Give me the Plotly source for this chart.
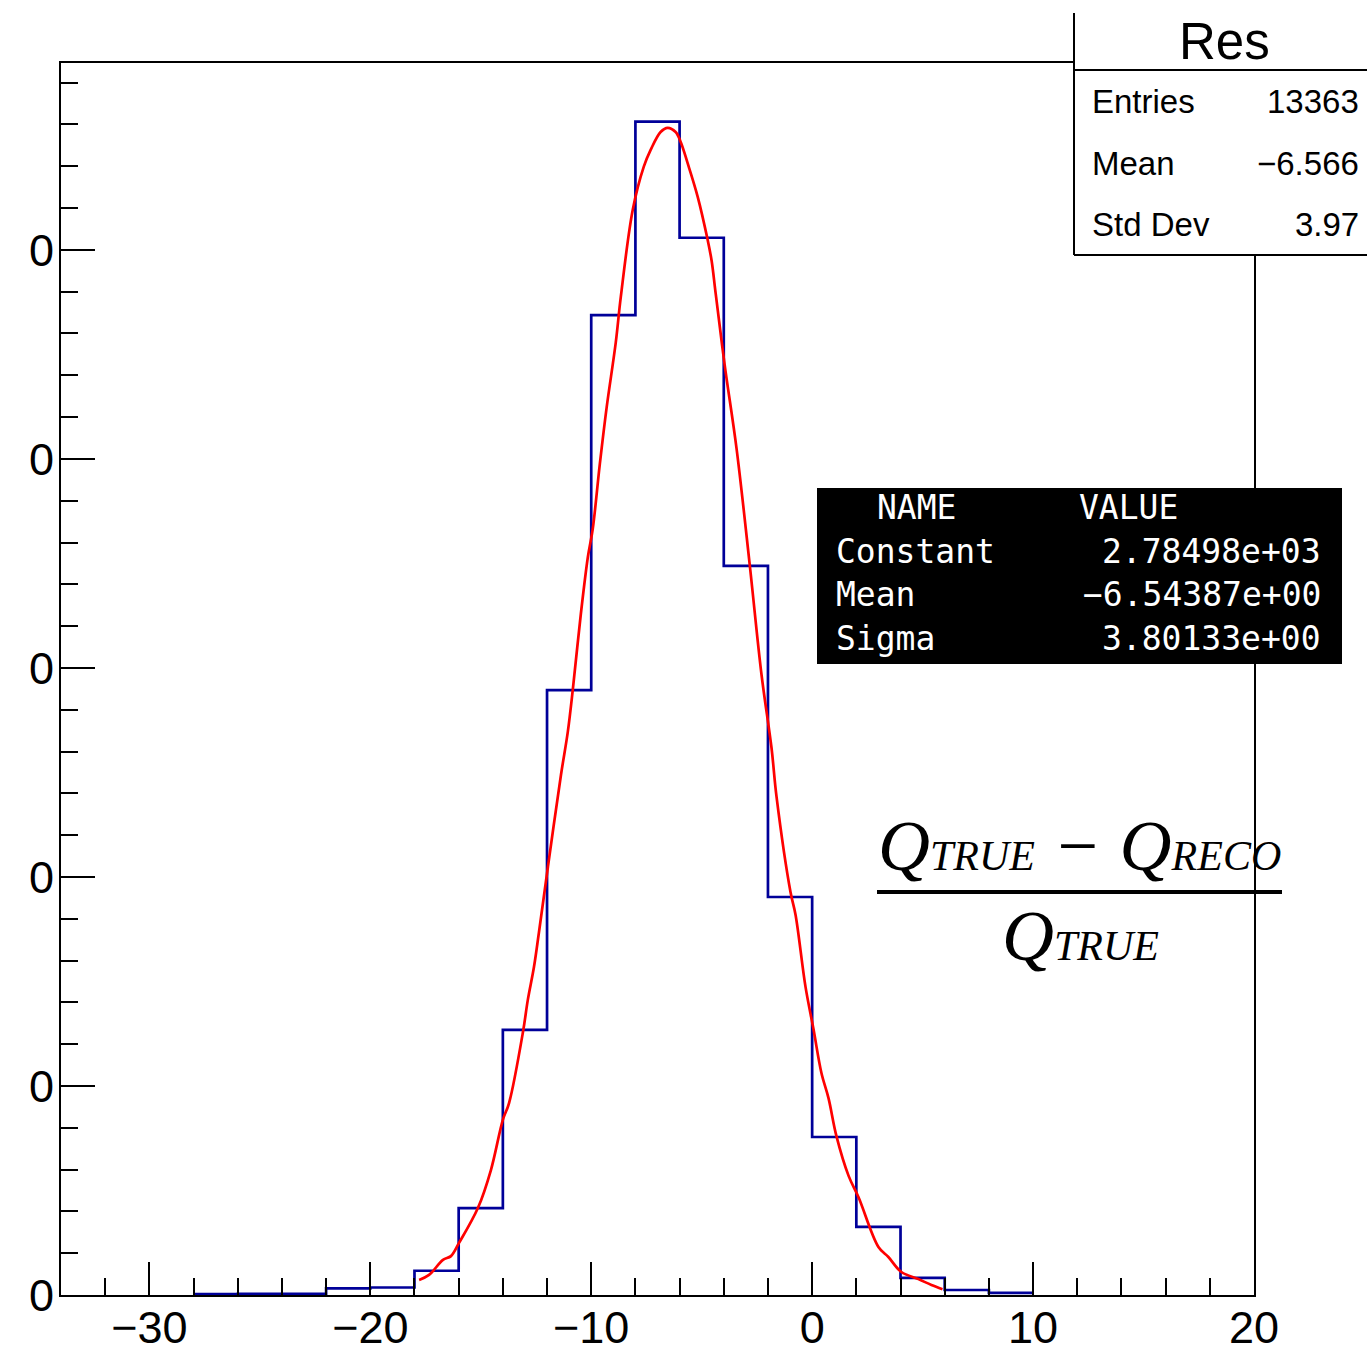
import plotly.graph_objects as go

# ---------------- data ----------------
bin_edges = [-28, -26, -24, -22, -20, -18, -16, -14, -12, -10, -8, -6, -4, -2, 0, 2, 4, 6, 8, 10]
bin_counts = [2, 3, 3, 16, 18, 58, 208, 634, 1447, 2344, 2807, 2529, 1744, 952, 378, 163, 41, 12, 5]

fit_x = [-17.79, -17.34, -16.71, -16.35, -15.99, -15.13, -14.54, -14.00, -13.72, -13.09,
         -12.87, -12.59, -12.37, -11.96, -11.37, -11.06, -10.83, -10.47, -10.15, -9.93,
         -9.61, -9.30, -8.89, -8.66, -8.12, -7.62, -7.31, -6.86, -6.54, -6.18,
         -5.95, -5.64, -5.18, -4.73, -4.55, -4.37, -3.96, -3.42, -2.83, -2.29,
         -1.84, -1.61, -0.98, -0.75, -0.30, 0.06, 0.42, 0.74, 1.10, 1.65,
         2.10, 3.00, 3.45, 4.04, 4.81, 5.40, 5.90]
fit_y = [36, 48, 84, 93, 124, 208, 299, 419, 459, 629,
         706, 785, 866, 1024, 1244, 1347, 1450, 1629, 1766, 1833,
         1988, 2124, 2278, 2388, 2596, 2699, 2739, 2782, 2792, 2782,
         2758, 2708, 2627, 2524, 2474, 2397, 2225, 2024, 1749, 1483,
         1309, 1191, 964, 909, 737, 636, 531, 471, 380, 285,
         234, 115, 91, 55, 38, 24, 14]

x_tick_vals = [-30, -20, -10, 0, 10, 20]
x_tick_text = ["\u221230", "\u221220", "\u221210", "0", "10", "20"]
y_tick_vals = [0, 500, 1000, 1500, 2000, 2500]
y_tick_text = ["0", "500", "1000", "1500", "2000", "2500"]

stat_title = "Res"
stat_labels = ["Entries", "Mean", "Std Dev"]
stat_values = ["13363", "\u22126.566", "3.97"]

fit_header = ["NAME", "VALUE"]
fit_names = ["Constant", "Mean", "Sigma"]
fit_values = ["2.78498e+03", "\u22126.54387e+00", "3.80133e+00"]

# ---------------- layout geometry (pixels) ----------------
W, H = 1367, 1353
L, R, T, B = 61, 1254, 63, 1295


def px(x):
    return (x - L) / (R - L)


def py(y):
    return (B - y) / (B - T)


# step outline of the histogram
step_x = bin_edges
step_y = bin_counts + [bin_counts[-1]]

fig = go.Figure()
fig.add_trace(go.Scatter(x=step_x, y=step_y, mode="lines", line_shape="hv",
                         line=dict(color="#000099", width=2.7), hoverinfo="skip",
                         showlegend=False))
fig.add_trace(go.Scatter(x=fit_x, y=fit_y, mode="lines", line_shape="spline",
                         line=dict(color="#ff0000", width=2.7), hoverinfo="skip",
                         showlegend=False))

shapes = []
annotations = []

# mask replicating the cropped left edge of the original picture
shapes.append(dict(type="rect", xref="paper", yref="paper", x0=px(-5), x1=px(30), y0=py(H + 5), y1=py(-5),
                   fillcolor="white", line=dict(width=0), layer="above"))

# statistics box
sx0, sy0, sy1, sx1 = 1074, 13, 255, W + 5
shapes.append(dict(type="rect", xref="paper", yref="paper", x0=px(sx0), x1=px(sx1), y0=py(sy1), y1=py(sy0),
                   fillcolor="white", line=dict(width=0), layer="above"))
for (a, b, c, d) in [(sx0, sy0, sx0, sy1), (sx0, sy1, sx1, sy1), (sx0, 70, sx1, 70)]:
    shapes.append(dict(type="line", xref="paper", yref="paper", x0=px(a), y0=py(b), x1=px(c), y1=py(d),
                       line=dict(color="black", width=2), layer="above"))
annotations.append(dict(xref="paper", yref="paper", x=px(1224), y=py(41), text=stat_title, showarrow=False,
                        xanchor="center", yanchor="middle",
                        font=dict(family="Liberation Sans", size=51, color="black")))
for i, (lab, val) in enumerate(zip(stat_labels, stat_values)):
    yc = 102 + i * 61
    annotations.append(dict(xref="paper", yref="paper", x=px(1090), y=py(yc), text=lab, showarrow=False,
                            xanchor="left", yanchor="middle",
                            font=dict(family="Liberation Sans", size=33, color="black")))
    annotations.append(dict(xref="paper", yref="paper", x=px(1361), y=py(yc), text=val, showarrow=False,
                            xanchor="right", yanchor="middle",
                            font=dict(family="Liberation Sans", size=33, color="black")))

# fit parameter box
shapes.append(dict(type="rect", xref="paper", yref="paper", x0=px(817), x1=px(1342), y0=py(664), y1=py(488),
                   fillcolor="black", line=dict(width=0), layer="above"))
mono = dict(family="DejaVu Sans Mono", size=33, color="white")
annotations.append(dict(xref="paper", yref="paper", x=px(875), y=py(507), text=fit_header[0], showarrow=False,
                        xanchor="left", yanchor="middle", font=mono))
annotations.append(dict(xref="paper", yref="paper", x=px(1077), y=py(507), text=fit_header[1], showarrow=False,
                        xanchor="left", yanchor="middle", font=mono))
for i, (nm, val) in enumerate(zip(fit_names, fit_values)):
    yc = 551 + i * 43.5
    annotations.append(dict(xref="paper", yref="paper", x=px(834), y=py(yc), text=nm, showarrow=False,
                            xanchor="left", yanchor="middle", font=mono))
    annotations.append(dict(xref="paper", yref="paper", x=px(1323), y=py(yc), text=val, showarrow=False,
                            xanchor="right", yanchor="middle", font=mono))

# formula (Q_TRUE - Q_RECO) / Q_TRUE
serif = dict(family="Liberation Serif", size=72, color="black")
annotations.append(dict(xref="paper", yref="paper", x=px(1079), y=py(846),
                        text="<i>Q<span style=\"font-size:42px\">TRUE</span> \u2212 Q<span style=\"font-size:42px\">RECO</span></i>",
                        showarrow=False, xanchor="center", yanchor="middle", font=serif))
annotations.append(dict(xref="paper", yref="paper", x=px(1080), y=py(936),
                        text="<i>Q<span style=\"font-size:42px\">TRUE</span></i>",
                        showarrow=False, xanchor="center", yanchor="middle", font=serif))
shapes.append(dict(type="line", xref="paper", yref="paper", x0=px(877), x1=px(1282), y0=py(892), y1=py(892),
                   line=dict(color="black", width=4), layer="above"))

axis_font = dict(family="Liberation Sans", size=45, color="black")
fig.update_layout(
    width=W, height=H,
    margin=dict(l=L, r=W - R, t=T, b=H - B, pad=0),
    paper_bgcolor="white", plot_bgcolor="white",
    showlegend=False,
    template="none",
    xaxis=dict(range=[-34, 20], tickmode="array", tickvals=x_tick_vals, ticktext=x_tick_text,
               ticks="inside", ticklen=33, tickwidth=2, tickcolor="black", ticklabelstandoff=-8,
               showline=True, linecolor="black", linewidth=2, mirror=True,
               showgrid=False, zeroline=False, tickfont=axis_font, automargin=False,
               minor=dict(ticks="inside", ticklen=17, tickwidth=2, tickcolor="black",
                          tickmode="linear", tick0=0, dtick=2, showgrid=False)),
    yaxis=dict(range=[0, 2947], tickmode="array", tickvals=y_tick_vals, ticktext=y_tick_text,
               ticks="inside", ticklen=34, tickwidth=2, tickcolor="black", ticklabelstandoff=-4,
               showline=True, linecolor="black", linewidth=2, mirror=True,
               showgrid=False, zeroline=False, tickfont=axis_font, automargin=False,
               minor=dict(ticks="inside", ticklen=17, tickwidth=2, tickcolor="black",
                          tickmode="linear", tick0=0, dtick=100, showgrid=False)),
    shapes=shapes,
    annotations=annotations,
)

fig.write_html("out.html")
